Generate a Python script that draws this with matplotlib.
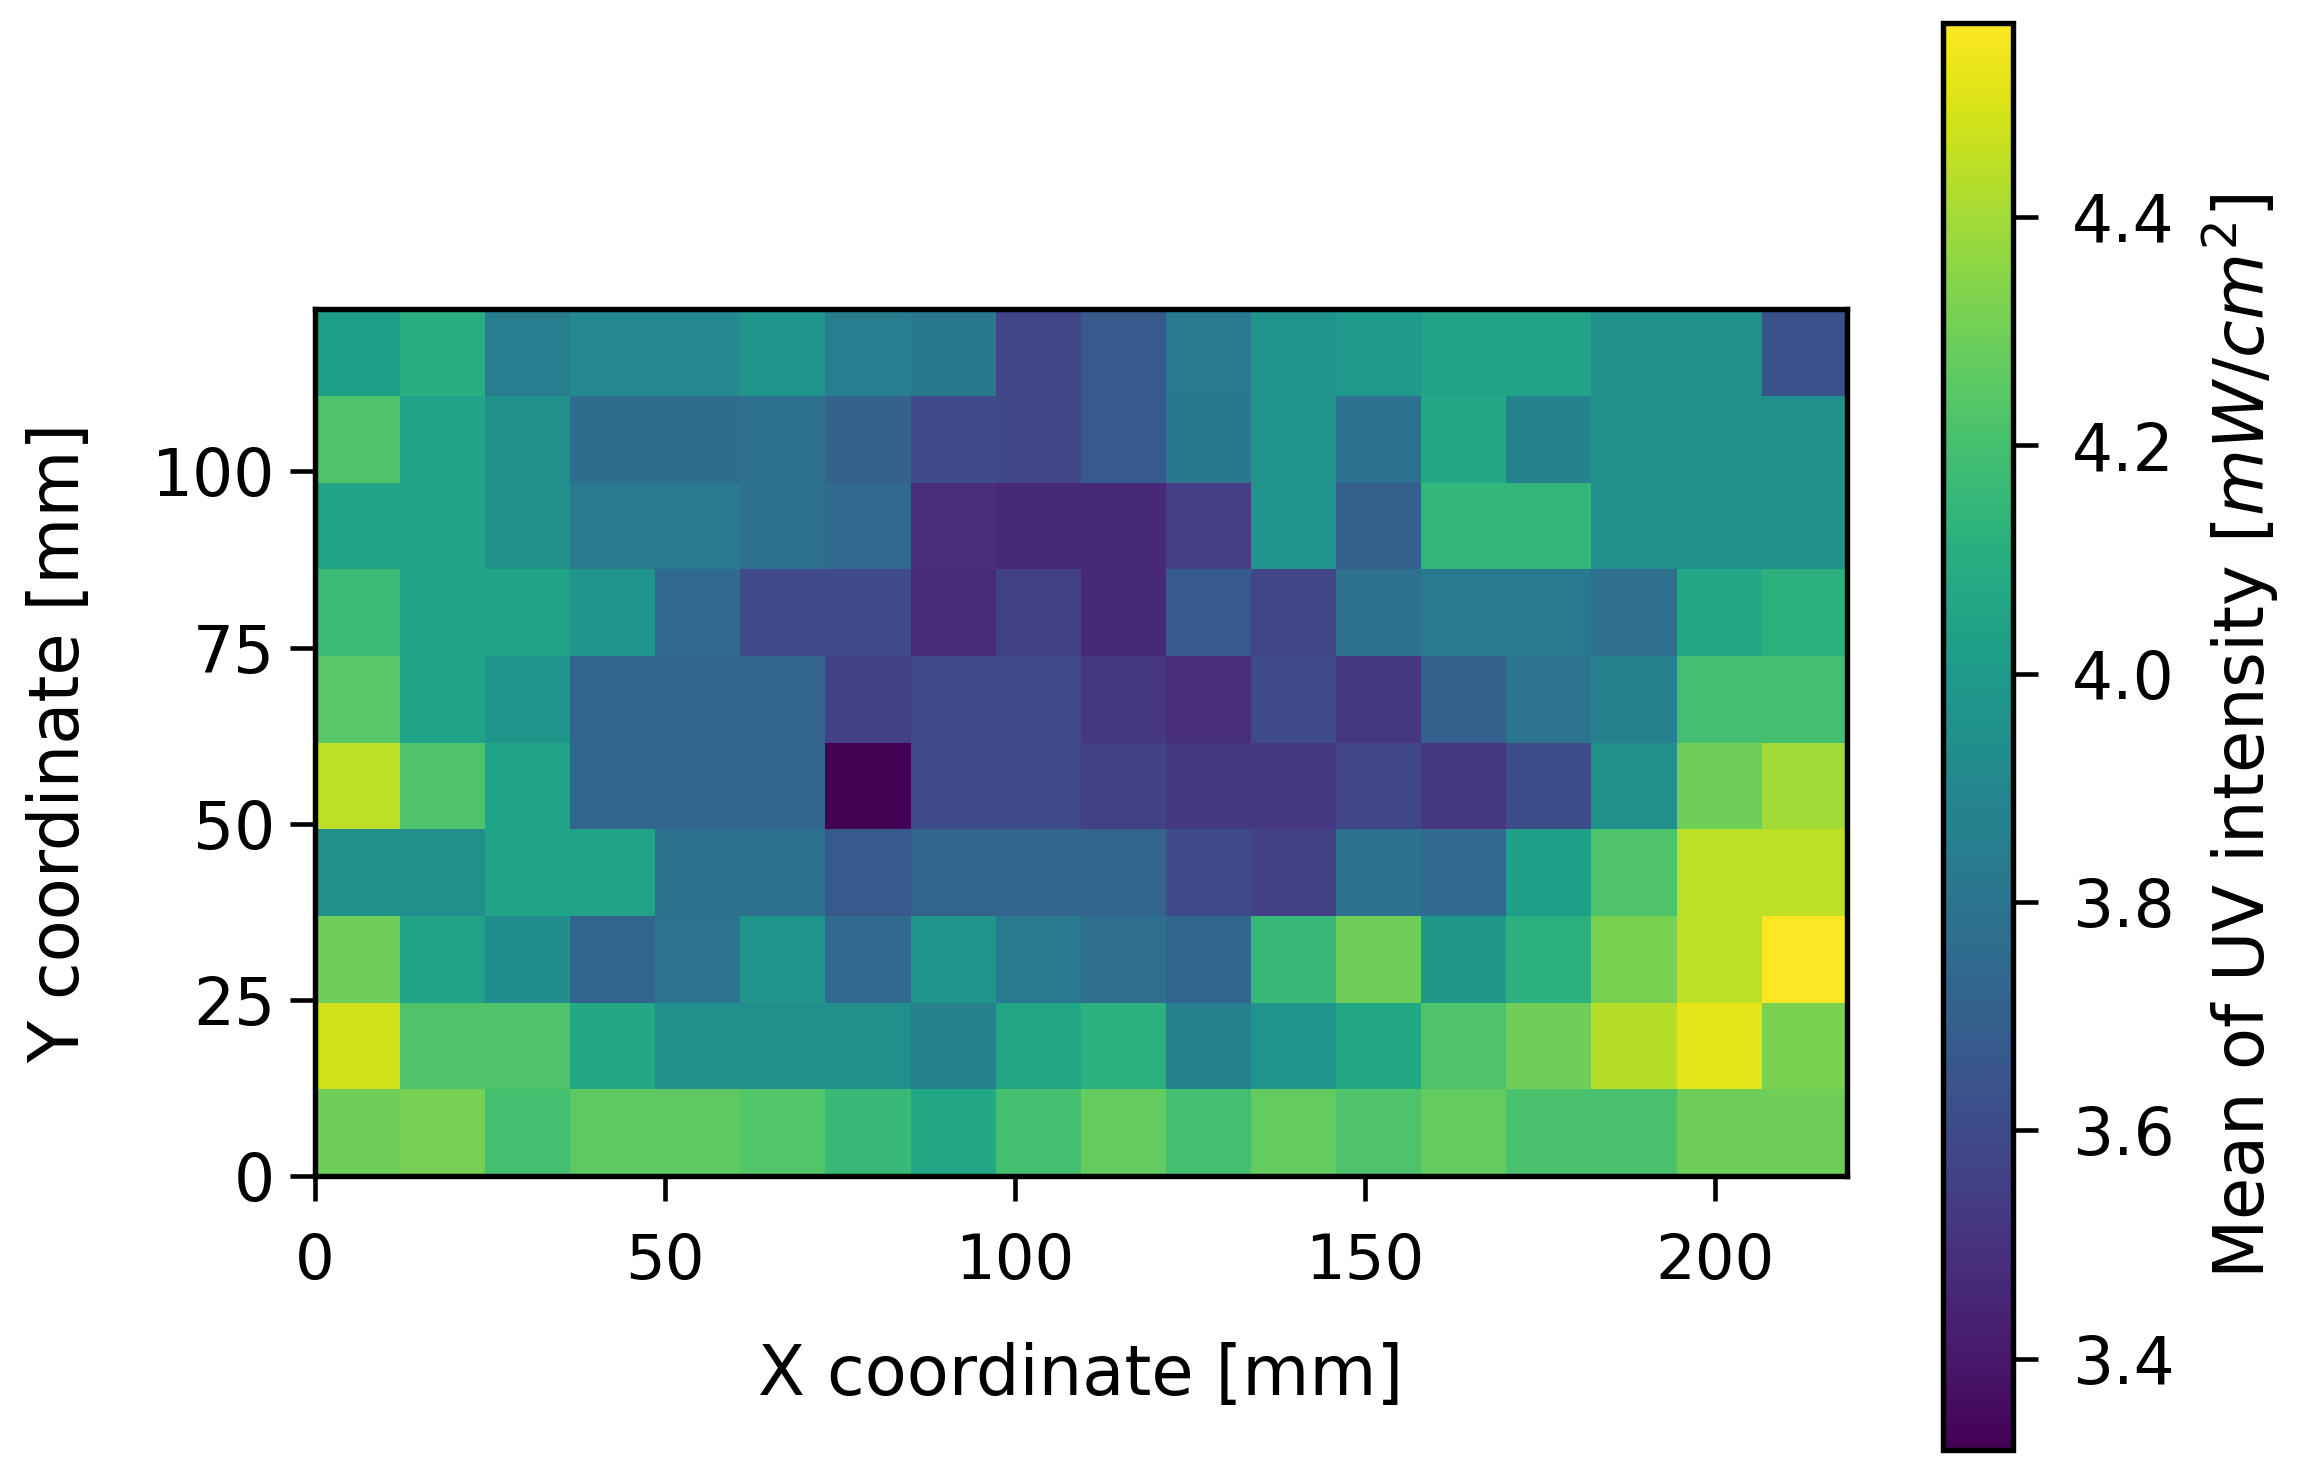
import numpy as np
import matplotlib
matplotlib.use("Agg")
import matplotlib.pyplot as plt

# grid of UV intensity means, rows listed from top (y ~ 117 mm) to bottom (y ~ 6 mm)
uv_rows_top_down = [
    [4.01, 4.11, 3.845, 3.91, 3.91, 3.97, 3.845, 3.82, 3.57, 3.67, 3.83, 3.96, 3.995, 4.045, 4.045, 3.945, 3.945, 3.63],
    [4.22, 4.045, 3.945, 3.76, 3.76, 3.78, 3.71, 3.60, 3.58, 3.67, 3.82, 3.96, 3.78, 4.07, 3.88, 3.945, 3.945, 3.945],
    [4.045, 4.045, 3.945, 3.83, 3.83, 3.78, 3.745, 3.48, 3.46, 3.46, 3.545, 3.96, 3.695, 4.145, 4.145, 3.945, 3.945, 3.945],
    [4.17, 4.045, 4.045, 3.97, 3.745, 3.60, 3.60, 3.47, 3.56, 3.46, 3.67, 3.58, 3.78, 3.83, 3.83, 3.77, 4.07, 4.12],
    [4.245, 4.045, 3.97, 3.72, 3.72, 3.72, 3.56, 3.60, 3.60, 3.52, 3.48, 3.60, 3.52, 3.695, 3.795, 3.86, 4.195, 4.195],
    [4.445, 4.22, 4.045, 3.72, 3.72, 3.72, 3.32, 3.60, 3.60, 3.56, 3.52, 3.52, 3.58, 3.52, 3.61, 3.945, 4.295, 4.395],
    [3.945, 3.945, 4.045, 4.045, 3.78, 3.78, 3.67, 3.72, 3.72, 3.72, 3.60, 3.56, 3.78, 3.745, 4.02, 4.22, 4.445, 4.445],
    [4.295, 4.045, 3.93, 3.72, 3.795, 3.97, 3.745, 3.97, 3.83, 3.77, 3.73, 4.16, 4.295, 3.98, 4.12, 4.32, 4.445, 4.57],
    [4.48, 4.22, 4.22, 4.07, 3.945, 3.945, 3.945, 3.86, 4.06, 4.12, 3.86, 3.96, 4.07, 4.22, 4.295, 4.43, 4.52, 4.32],
    [4.295, 4.31, 4.195, 4.26, 4.26, 4.23, 4.16, 4.07, 4.195, 4.27, 4.195, 4.27, 4.22, 4.27, 4.21, 4.21, 4.295, 4.295],
]
x_extent_mm = 218.9
y_extent_mm = 123.0
x_ticks = [0, 50, 100, 150, 200]
y_ticks = [0, 25, 50, 75, 100]
cbar_ticks = [3.4, 3.6, 3.8, 4.0, 4.2, 4.4]


def main():
    uv = np.flipud(np.array(uv_rows_top_down))
    n_rows, n_cols = uv.shape
    x_edges = np.linspace(0, x_extent_mm, n_cols + 1)
    y_edges = np.linspace(0, y_extent_mm, n_rows + 1)

    fig = plt.figure(figsize=(2297 / 300, 1473 / 300), dpi=300)
    ax = fig.add_axes([0.137, 0.2016, 0.667, 0.5884])
    cax = fig.add_axes([0.846, 0.0156, 0.0305, 0.969])

    mesh = ax.pcolormesh(x_edges, y_edges, uv, cmap="viridis")
    ax.set_xlim(0, x_extent_mm)
    ax.set_ylim(0, y_extent_mm)
    ax.set_xticks(x_ticks)
    ax.set_yticks(y_ticks)
    ax.tick_params(axis="x", labelsize=15, length=6, width=1.1, pad=7.5)
    ax.tick_params(axis="y", labelsize=15.5, length=6, width=1.1, pad=3.5)
    ax.set_xlabel("X coordinate [mm]", fontsize=16.5, labelpad=12)
    ax.set_ylabel("Y coordinate [mm]", fontsize=16.5, labelpad=14)
    for sp in ax.spines.values():
        sp.set_linewidth(1.3)

    cbar = fig.colorbar(mesh, cax=cax)
    cbar.set_ticks(cbar_ticks)
    cbar.ax.tick_params(labelsize=15.5, length=6, width=1.1, pad=8)
    cbar.outline.set_linewidth(1.3)
    cbar.set_label("Mean of UV intensity $[mW/cm^2]$", fontsize=16.5, labelpad=6)

    fig.savefig("out.png", dpi=300)


if __name__ == '__main__':
    main()
